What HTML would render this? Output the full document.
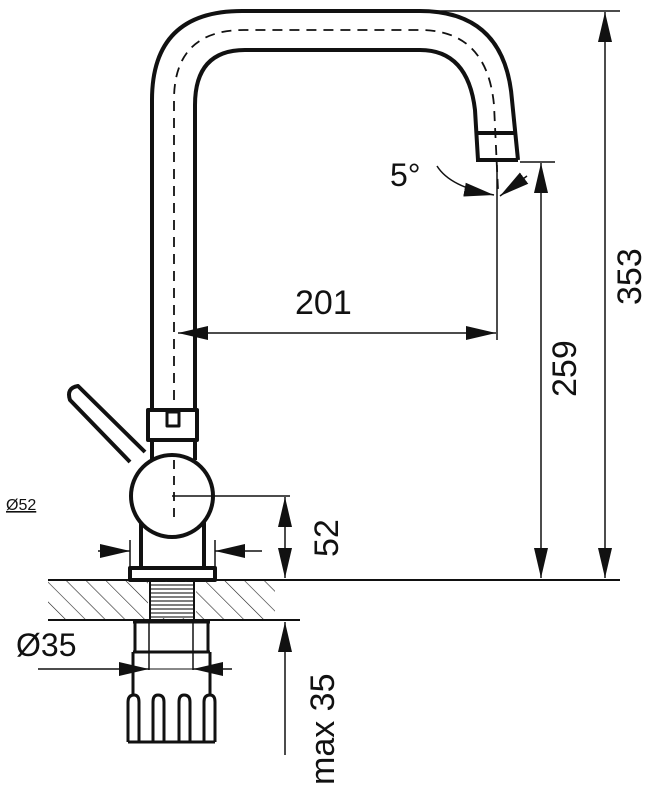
<!DOCTYPE html>
<html><head><style>body{margin:0;background:#fff}svg{display:block}text{font-family:"Liberation Sans",sans-serif;fill:#111}</style></head>
<body>
<svg width="659" height="799" viewBox="0 0 659 799" xmlns="http://www.w3.org/2000/svg">
<defs>
<pattern id="h" width="14" height="14" patternUnits="userSpaceOnUse" patternTransform="rotate(-45)">
<line x1="0" y1="0" x2="0" y2="14" stroke="#222" stroke-width="1.2"/></pattern>
<marker id="A" viewBox="0 0 30 14" refX="30" refY="7" markerWidth="30" markerHeight="14" orient="auto-start-reverse" markerUnits="userSpaceOnUse"><path d="M0,0 L30,7 L0,14z" fill="#111"/></marker>
</defs>
<g fill="none" stroke="#111" stroke-width="4" stroke-linejoin="round">
<path d="M152,410 V100 Q152,11 242,11 H420 Q505,11 512,100 L518,160"/>
<path d="M195,410 V105 Q195,50 245,50 H420 Q468,50 475,110 L478,160"/>
<path d="M476,160 H518 M476,133 H515"/>
<path d="M174,400 V100 Q174,30 244,30 H420 Q487,30 494,105 L498,190" stroke-width="1.8" stroke-dasharray="10,7"/>
<rect x="148" y="410" width="49" height="30" fill="#fff"/>
<rect x="167" y="412" width="12" height="14" stroke-width="3"/>
<line x1="152" y1="440" x2="152" y2="460"/><line x1="195" y1="440" x2="195" y2="460"/>
<path d="M130,462 L70,400 Q66,388 78,386 L145,452"/>
<line x1="141" y1="510" x2="141" y2="568"/><line x1="204" y1="510" x2="204" y2="568"/>
<circle cx="172" cy="496" r="41" fill="#fff"/>
<line x1="174" y1="460" x2="174" y2="520" stroke-width="1.8" stroke-dasharray="9,7"/>
<rect x="130" y="568" width="85" height="12"/>
</g>
<rect x="48" y="580" width="227" height="40" fill="url(#h)"/>
<rect x="148" y="582" width="48" height="36" fill="#fff"/>
<g stroke="#333" stroke-width="1.3">
<path d="M150,585h44M150,589h44M150,593h44M150,597h44M150,601h44M150,605h44M150,609h44M150,613h44M150,617h44"/>
</g>
<g stroke="#111" fill="none">
<line x1="48" y1="580" x2="620" y2="580" stroke-width="2"/>
<line x1="48" y1="620" x2="300" y2="620" stroke-width="2"/>
<line x1="150" y1="582" x2="150" y2="619" stroke-width="2"/>
<line x1="194" y1="582" x2="194" y2="619" stroke-width="2"/>
<path d="M133,622 H210 M135,622 V652 M208,622 V652 M133,652 H210 M133,652 V695 M210,652 V695" stroke-width="3"/>
<path d="M149,622 V670 M193,622 V670" stroke-width="1.5"/>
<path d="M128,742 V702 Q128,695 134,695 Q139,695 139,702 V742 M153,742 V702 Q153,695 158,695 Q164,695 164,702 V742 M179,742 V702 Q179,695 184,695 Q190,695 190,702 V742 M204,742 V702 Q204,695 210,695 Q215,695 215,702 V742 M128,742 H215" stroke-width="3"/>
<g stroke-width="1.5">
<line x1="420" y1="11" x2="620" y2="11"/>
<line x1="520" y1="162" x2="555" y2="162"/>
<line x1="605" y1="12" x2="605" y2="578" marker-start="url(#A)" marker-end="url(#A)"/>
<line x1="541" y1="163" x2="541" y2="578" marker-start="url(#A)" marker-end="url(#A)"/>
<line x1="497" y1="165" x2="497" y2="340"/>
<line x1="178" y1="333" x2="496" y2="333" marker-start="url(#A)" marker-end="url(#A)"/>
<path d="M437,166 Q450,187 494,195" marker-end="url(#A)"/>
<path d="M527,176 L500,196" marker-end="url(#A)"/>
<line x1="172" y1="496" x2="290" y2="496"/>
<line x1="285" y1="497" x2="285" y2="578" marker-start="url(#A)" marker-end="url(#A)"/>
<line x1="285" y1="622" x2="285" y2="755" marker-start="url(#A)"/>
<line x1="130" y1="540" x2="130" y2="568"/><line x1="215" y1="540" x2="215" y2="568"/>
<line x1="98" y1="551" x2="130" y2="551" marker-end="url(#A)"/>
<line x1="262" y1="551" x2="215" y2="551" marker-end="url(#A)"/>
<line x1="38" y1="669" x2="149" y2="669" marker-end="url(#A)"/>
<line x1="232" y1="669" x2="193" y2="669" marker-end="url(#A)"/>
<line x1="149" y1="669" x2="193" y2="669" stroke-width="1"/>
</g>
</g>
<text x="295" y="314" font-size="34">201</text>
<text x="390" y="186" font-size="32">5°</text>
<text font-size="34" transform="translate(641,305) rotate(-90)">353</text>
<text font-size="34" transform="translate(576,397) rotate(-90)">259</text>
<text font-size="34" transform="translate(338,557) rotate(-90)">52</text>
<text font-size="34" transform="translate(334,785) rotate(-90)">max 35</text>
<text x="16" y="656" font-size="32">Ø35</text>
<text x="6" y="510" font-size="16" text-decoration="underline">Ø52</text>
</svg>
</body></html>
